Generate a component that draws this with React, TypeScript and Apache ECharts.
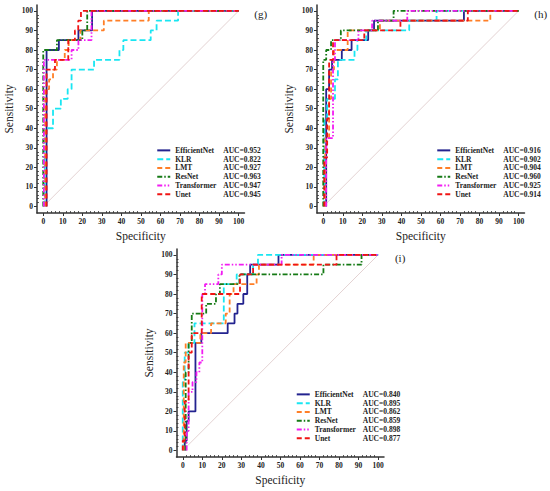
import React, { useEffect, useRef } from "react";
import * as echarts from "echarts";

const MODELS = ["EfficientNet", "KLR", "LMT", "ResNet", "Transformer", "Unet"];
const COLORS = ["#23238f", "#19e6f2", "#ff7f27", "#157a15", "#f21cf2", "#f01414"];
const DASHES: any[] = ["solid", [6, 3], [5, 3], [5, 2, 1.5, 2], [5, 2, 1.5, 2, 1.5, 2], [5, 3]];

const AUC_G = ["0.952", "0.822", "0.927", "0.963", "0.947", "0.945"];
const AUC_H = ["0.916", "0.902", "0.904", "0.960", "0.925", "0.914"];
const AUC_I = ["0.840", "0.895", "0.862", "0.859", "0.898", "0.877"];

const MAJOR_TICKS = [0, 10, 20, 30, 40, 50, 60, 70, 80, 90, 100];
const MINOR_TICKS = [2, 4, 6, 8, 12, 14, 16, 18, 22, 24, 26, 28, 32, 34, 36, 38, 42, 44, 46, 48, 52, 54, 56, 58, 62, 64, 66, 68, 72, 74, 76, 78, 82, 84, 86, 88, 92, 94, 96, 98];
const DIAGONAL = [[0, 0], [100, 100]];

// panel (g)
const G_EFFICIENTNET = [[1.7, 0], [1.7, 80], [8, 80], [8, 85], [18, 85], [18, 90], [25, 90], [25, 100], [100, 100]];
const G_KLR = [[0.8, 0], [0.8, 40], [5, 40], [5, 50], [9, 50], [9, 55], [12.5, 55], [12.5, 60], [14.5, 60], [14.5, 70], [26, 70], [26, 75], [39, 75], [39, 80], [41, 80], [41, 85], [55, 85], [55, 90], [58, 90], [58, 95], [69, 95], [69, 100], [100, 100]];
const G_LMT = [[1, 0], [1, 60], [3, 60], [3, 65], [5, 65], [5, 70], [7, 70], [7, 75], [11, 75], [11, 80], [13, 80], [13, 85], [19, 85], [19, 90], [31, 90], [31, 95], [54, 95], [54, 100], [100, 100]];
const G_RESNET = [[0, 0], [0, 80], [7, 80], [7, 85], [20, 85], [20, 90], [22.5, 90], [22.5, 100], [100, 100]];
const G_TRANSFORMER = [[0.3, 0], [0.3, 75], [14.5, 75], [14.5, 80], [18, 80], [18, 85], [24.7, 85], [24.7, 100], [100, 100]];
const G_UNET = [[1.7, 0], [1.7, 70], [6, 70], [6, 75], [12.8, 75], [12.8, 85], [16.2, 85], [16.2, 90], [17.9, 90], [17.9, 95], [19.3, 95], [19.3, 100], [100, 100]];

// panel (h)
const H_EFFICIENTNET = [[1.5, 0], [1.5, 60], [3, 60], [3, 70], [4.5, 70], [4.5, 75], [9.5, 75], [9.5, 80], [14.5, 80], [14.5, 85], [23, 85], [23, 90], [26, 90], [26, 95], [72, 95], [72, 100], [100, 100]];
const H_KLR = [[0.5, 0], [0.5, 45], [2, 45], [2, 55], [6, 55], [6, 65], [7.5, 65], [7.5, 75], [16, 75], [16, 80], [17.5, 80], [17.5, 85], [22, 85], [22, 90], [44, 90], [44, 95], [58, 95], [58, 100], [100, 100]];
const H_LMT = [[1, 0], [1, 35], [3, 35], [3, 55], [4, 55], [4, 70], [5.5, 70], [5.5, 80], [12.5, 80], [12.5, 90], [29, 90], [29, 95], [85.5, 95], [85.5, 100], [100, 100]];
const H_RESNET = [[0, 0], [0, 75], [1.5, 75], [1.5, 80], [4, 80], [4, 85], [9, 85], [9, 90], [28, 90], [28, 95], [36, 95], [36, 100], [100, 100]];
const H_TRANSFORMER = [[1.5, 0], [1.5, 35], [5, 35], [5, 75], [6, 75], [6, 85], [18, 85], [18, 90], [25, 90], [25, 95], [43, 95], [43, 100], [100, 100]];
const H_UNET = [[0.5, 0], [0.5, 25], [2, 25], [2, 45], [3, 45], [3, 75], [5, 75], [5, 85], [21, 85], [21, 90], [39.5, 90], [39.5, 95], [74, 95], [74, 100], [100, 100]];

// panel (i)
const I_EFFICIENTNET = [[1, 0], [1, 5], [2, 5], [2, 15], [3, 15], [3, 20], [6.5, 20], [6.5, 55], [9.5, 55], [9.5, 60], [23, 60], [23, 65], [26.5, 65], [26.5, 70], [28, 70], [28, 75], [31, 75], [31, 80], [33, 80], [33, 90], [34.5, 90], [34.5, 95], [49, 95], [49, 100], [100, 100]];
const I_KLR = [[0, 0], [0, 35], [1, 35], [1, 50], [3, 50], [3, 55], [6, 55], [6, 65], [21, 65], [21, 85], [27.6, 85], [27.6, 90], [36, 90], [36, 95], [38.5, 95], [38.5, 100], [100, 100]];
const I_LMT = [[0.5, 0], [0.5, 45], [1.5, 45], [1.5, 55], [9, 55], [9, 60], [14.5, 60], [14.5, 65], [22, 65], [22, 70], [24, 70], [24, 80], [26, 80], [26, 85], [37.8, 85], [37.8, 90], [39, 90], [39, 95], [67, 95], [67, 100], [100, 100]];
const I_RESNET = [[1.5, 0], [1.5, 40], [3, 40], [3, 55], [4.6, 55], [4.6, 70], [12, 70], [12, 75], [17, 75], [17, 80], [19, 80], [19, 85], [29, 85], [29, 90], [72, 90], [72, 95], [91.5, 95], [91.5, 100], [100, 100]];
const I_TRANSFORMER = [[2, 0], [2, 10], [3, 10], [3, 30], [5, 30], [5, 35], [7, 35], [7, 40], [8.5, 40], [8.5, 45], [10, 45], [10, 80], [11.4, 80], [11.4, 85], [18.2, 85], [18.2, 90], [20, 90], [20, 95], [50.6, 95], [50.6, 100], [100, 100]];
const I_UNET = [[0, 0], [0, 5], [1, 5], [1, 25], [3, 25], [3, 50], [4.6, 50], [4.6, 60], [9.7, 60], [9.7, 80], [29.3, 80], [29.3, 90], [36, 90], [36, 95], [78.7, 95], [78.7, 100], [100, 100]];

const PANELS = [
  { label: "(g)", auc: AUC_G, curves: [G_EFFICIENTNET, G_KLR, G_LMT, G_RESNET, G_TRANSFORMER, G_UNET] },
  { label: "(h)", auc: AUC_H, curves: [H_EFFICIENTNET, H_KLR, H_LMT, H_RESNET, H_TRANSFORMER, H_UNET] },
  { label: "(i)", auc: AUC_I, curves: [I_EFFICIENTNET, I_KLR, I_LMT, I_RESNET, I_TRANSFORMER, I_UNET] },
];

const X_MIN = -3.2, X_MAX = 103, Y_MIN = -3.3, Y_MAX = 103;
const PLOT_W = 207.5, PLOT_H = 208;
const GRID_POS = [
  { left: 37, top: 5 },
  { left: 317, top: 5 },
  { left: 176.5, top: 249 },
];

const FONT = "'Liberation Serif', 'Times New Roman', serif";

export default function App() {
  const ref = useRef<HTMLDivElement>(null);
  useEffect(() => {
    document.body.style.margin = "0";
    if (!ref.current) return;
    const chart = echarts.init(ref.current, undefined, { renderer: "svg" });
    const grid: any[] = [];
    const xAxis: any[] = [];
    const yAxis: any[] = [];
    const series: any[] = [];
    const legend: any[] = [];
    const graphic: any[] = [];
    const sx = PLOT_W / (X_MAX - X_MIN);
    const sy = PLOT_H / (Y_MAX - Y_MIN);

    PANELS.forEach((p, pi) => {
      const g = GRID_POS[pi];
      grid.push({ left: g.left, top: g.top, width: PLOT_W, height: PLOT_H, containLabel: false });
      const axisCommon = {
        min: X_MIN,
        max: X_MAX,
        gridIndex: pi,
      };
      const labelStyle = { fontFamily: FONT, fontWeight: "bold", fontSize: 7.5, color: "#222" };
      xAxis.push({
        ...axisCommon,
        type: "value",
        position: "bottom",
        name: "Specificity",
        nameLocation: "middle",
        nameGap: 17,
        nameTextStyle: { fontFamily: FONT, fontSize: 11.5, color: "#222" },
        axisLine: { show: true, onZero: false, lineStyle: { color: "#333", width: 1.5 } },
        axisTick: { show: true, customValues: MAJOR_TICKS, length: 3, lineStyle: { color: "#333", width: 1 } },
        axisLabel: { customValues: MAJOR_TICKS, margin: 4, ...labelStyle },
        splitLine: { show: false },
      });
      xAxis.push({
        ...axisCommon,
        type: "value",
        position: "bottom",
        axisLine: { show: false, onZero: false },
        axisTick: { show: true, inside: true, customValues: MINOR_TICKS, length: 2, lineStyle: { color: "#333", width: 0.8 } },
        axisLabel: { show: false },
        splitLine: { show: false },
      });
      yAxis.push({
        type: "value",
        gridIndex: pi,
        min: Y_MIN,
        max: Y_MAX,
        position: "left",
        name: "Sensitivity",
        nameLocation: "middle",
        nameGap: 22,
        nameTextStyle: { fontFamily: FONT, fontSize: 11.5, color: "#222" },
        axisLine: { show: true, onZero: false, lineStyle: { color: "#333", width: 1.5 } },
        axisTick: { show: true, customValues: MAJOR_TICKS, length: 3, lineStyle: { color: "#333", width: 1 } },
        axisLabel: { customValues: MAJOR_TICKS, margin: 4, ...labelStyle },
        splitLine: { show: false },
      });
      yAxis.push({
        type: "value",
        gridIndex: pi,
        min: Y_MIN,
        max: Y_MAX,
        position: "left",
        axisLine: { show: false, onZero: false },
        axisTick: { show: true, inside: true, customValues: MINOR_TICKS, length: 2, lineStyle: { color: "#333", width: 0.8 } },
        axisLabel: { show: false },
        splitLine: { show: false },
      });

      series.push({
        type: "line",
        xAxisIndex: pi * 2,
        yAxisIndex: pi * 2,
        data: DIAGONAL,
        symbol: "none",
        silent: true,
        lineStyle: { color: "#dcc6c6", width: 0.8 },
        z: 1,
      });
      MODELS.forEach((m, mi) => {
        series.push({
          name: m,
          type: "line",
          xAxisIndex: pi * 2,
          yAxisIndex: pi * 2,
          data: p.curves[mi],
          symbol: "none",
          showSymbol: false,
          color: COLORS[mi],
          lineStyle: { color: COLORS[mi], width: 1.8, type: DASHES[mi] },
          z: 2 + mi,
        });
      });

      const x0 = g.left + (0 - X_MIN) * sx;
      const y100 = g.top + (Y_MAX - 100) * sy;
      const auc = p.auc;
      legend.push({
        data: MODELS,
        orient: "vertical",
        left: x0 + 113,
        top: y100 + 135.5,
        itemWidth: 13,
        itemHeight: 8,
        itemGap: 0.8,
        padding: 0,
        selectedMode: false,
        itemStyle: { opacity: 0 },
        textStyle: {
          fontFamily: FONT,
          fontWeight: "bold",
          fontSize: 7.5,
          color: "#222",
          rich: {
            n: { width: 48, fontFamily: FONT, fontWeight: "bold", fontSize: 7.5, color: "#222" },
            a: { fontFamily: FONT, fontWeight: "bold", fontSize: 7.5, color: "#222" },
          },
        },
        formatter: (name: string) => {
          const idx = MODELS.indexOf(name);
          return `{n|${name}}{a|AUC=${auc[idx]}}`;
        },
      });

      graphic.push({
        type: "text",
        x: g.left + (100 - X_MIN) * sx + 22,
        y: y100 + 3,
        style: { text: p.label, fontFamily: FONT, fontSize: 11, fill: "#222", textAlign: "center", textVerticalAlign: "middle" },
      });
    });

    chart.setOption({
      animation: false,
      backgroundColor: "#fff",
      grid,
      xAxis,
      yAxis,
      series,
      legend,
      graphic,
    });
    return () => chart.dispose();
  }, []);
  return <div ref={ref} style={{ width: 550, height: 491 }} />;
}
